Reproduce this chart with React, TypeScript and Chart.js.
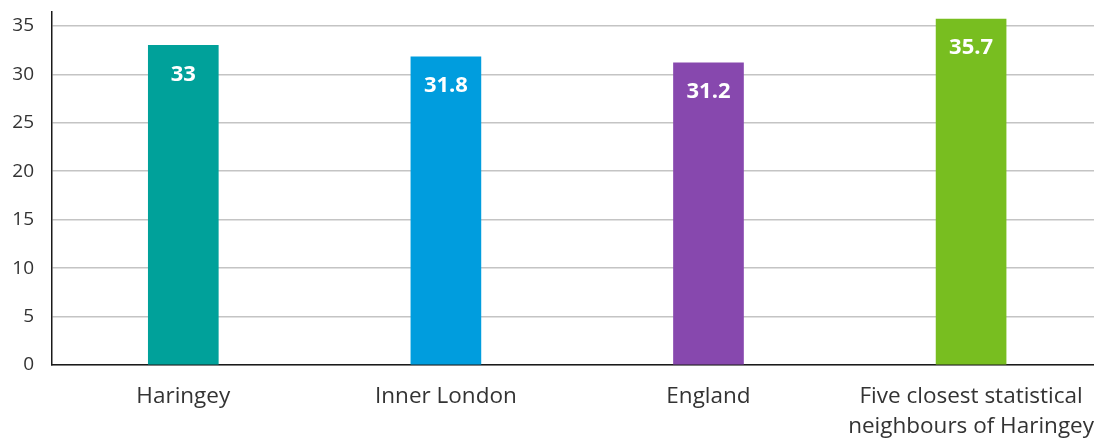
import React, { useEffect, useRef } from "react";
import { Chart, registerables } from "chart.js";

Chart.register(...registerables);

const categories: (string | string[])[] = [
  "Haringey",
  "Inner London",
  "England",
  ["Five closest statistical", "neighbours of Haringey"],
];
const values: number[] = [33, 31.8, 31.2, 35.7];
const valueLabels: string[] = ["33", "31.8", "31.2", "35.7"];
const barColors: string[] = ["#00A19A", "#009DDE", "#8748AE", "#78BE20"];
const yTicks: number[] = [0, 5, 10, 15, 20, 25, 30, 35];

const FONT = "'Open Sans', 'DejaVu Sans', sans-serif";

const labelPlugin = {
  id: "barValueLabels",
  afterDatasetsDraw(chart: any) {
    const ctx = chart.ctx;
    const meta = chart.getDatasetMeta(0);
    ctx.save();
    ctx.fillStyle = "#ffffff";
    ctx.font = `bold 22px ${FONT}`;
    ctx.textAlign = "center";
    ctx.textBaseline = "middle";
    meta.data.forEach((bar: any, i: number) => {
      ctx.fillText(valueLabels[i], bar.x, bar.y + 29);
    });
    ctx.restore();
  },
};

export default function App() {
  const ref = useRef<HTMLCanvasElement | null>(null);

  useEffect(() => {
    document.body.style.margin = "0";
    document.body.style.overflow = "hidden";
    if (!ref.current) return;
    const chart = new Chart(ref.current, {
      type: "bar",
      data: {
        labels: categories as any,
        datasets: [
          {
            data: values,
            backgroundColor: barColors,
            barThickness: 70,
          },
        ],
      },
      options: {
        animation: false,
        responsive: false,
        layout: { padding: { top: 11, right: 0, left: 0, bottom: 0 } },
        plugins: { legend: { display: false }, tooltip: { enabled: false } },
        scales: {
          x: {
            grid: { display: false },
            border: { display: true, color: "#1a1a1a", width: 1.5 },
            ticks: {
              color: "#333333",
              font: { family: FONT, size: 22.5, lineHeight: 1.32 },
              padding: 9,
              maxRotation: 0,
              autoSkip: false,
            },
            afterFit: (scale: any) => {
              scale.height = 74;
            },
          },
          y: {
            min: 0,
            max: 36.5,
            afterBuildTicks: (axis: any) => {
              axis.ticks = yTicks.map((v) => ({ value: v }));
            },
            grid: {
              color: "#c4c4c4",
              lineWidth: 1.5,
              drawTicks: true,
              tickLength: 18,
              tickColor: "rgba(0,0,0,0)",
            },
            border: { display: true, color: "#1a1a1a", width: 1.5 },
            ticks: {
              color: "#333333",
              font: { family: FONT, size: 19 },
              padding: 0,
            },
            afterFit: (scale: any) => {
              scale.width = 52;
            },
          },
        },
      },
      plugins: [labelPlugin],
    });
    return () => chart.destroy();
  }, []);

  return (
    <div style={{ width: 1103, height: 439, overflow: "hidden" }}>
      <canvas ref={ref} width={1103} height={439} style={{ display: "block" }} />
    </div>
  );
}
